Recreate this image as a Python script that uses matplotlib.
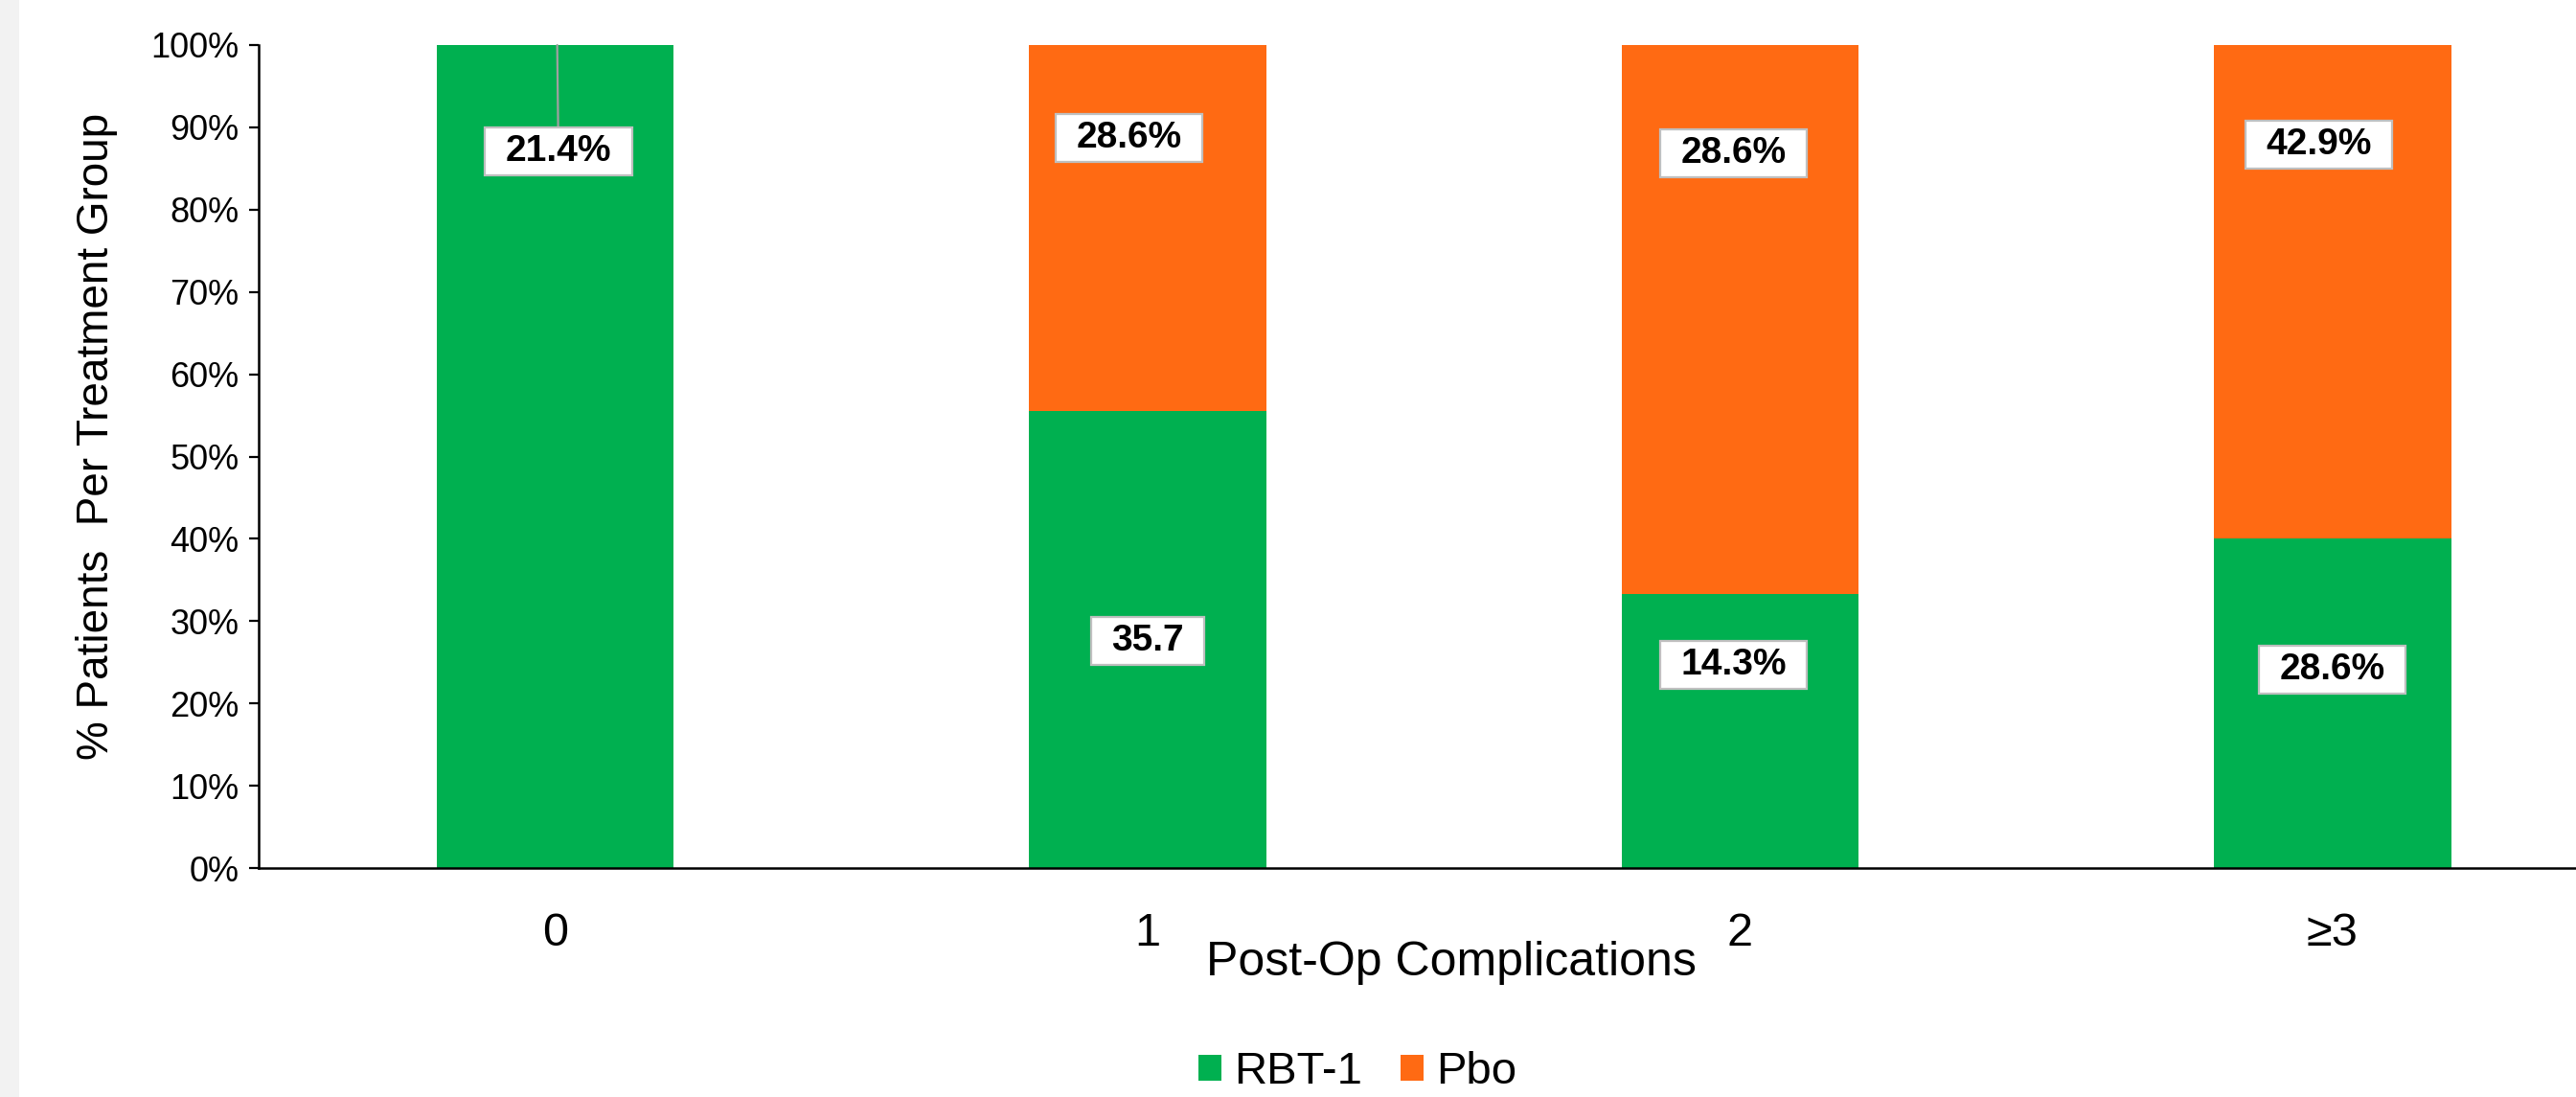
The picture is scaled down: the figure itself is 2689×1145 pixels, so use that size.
import matplotlib
matplotlib.use("Agg")
import matplotlib.pyplot as plt
from matplotlib.patches import Rectangle
from matplotlib.path import Path
import numpy as np

plt.rcParams['font.family'] = ['Liberation Sans', 'DejaVu Sans']

# Post-op complication categories and % of patients per treatment group
categories = ["0", "1", "2", "≥3"]
rbt_values = [21.4, 35.7, 14.3, 28.6]
pbo_values = [0.0, 28.6, 28.6, 42.9]
rbt_labels = ["21.4%", "35.7", "14.3%", "28.6%"]
pbo_labels = [None, "28.6%", "28.6%", "42.9%"]
y_ticks = [0, 10, 20, 30, 40, 50, 60, 70, 80, 90, 100]

# Label placement (x offset from bar centre, y height in %)
rbt_label_pos = [(0.005, 87.1), (0.0, 27.6), (-0.011, 24.7), (0.0, 24.1)]
pbo_label_pos = [None, (-0.032, 88.7), (-0.011, 86.8), (-0.023, 87.9)]

GREEN = "#00B050"
ORANGE = "#FF6A13"

rbt = np.array(rbt_values)
pbo = np.array(pbo_values)
total = rbt + pbo
rbt_share = rbt / total * 100
pbo_share = pbo / total * 100


def label_box(x0, y0, width, height, mutation_size):
    """Rectangle with wider horizontal than vertical padding."""
    hp = 0.55 * mutation_size
    vp = 0.18 * mutation_size
    x0, y0 = x0 - hp, y0 - vp
    x1, y1 = x0 + width + 2 * hp, y0 + height + 2 * vp
    return Path([(x0, y0), (x1, y0), (x1, y1), (x0, y1), (x0, y0)],
                closed=True)


W, H, DPI = 2689, 1145, 100
fig = plt.figure(figsize=(W / DPI, H / DPI), dpi=DPI)
fig.patch.set_facecolor("white")
fig.patches.append(Rectangle((0, 0), 20 / W, 1, transform=fig.transFigure,
                             facecolor="#F2F2F2", edgecolor="none", zorder=0))

ax = fig.add_axes([270 / W, (H - 906) / H, (W - 270) / W, 859 / H])
x = np.arange(len(categories))
ax.bar(x, rbt_share, width=0.40, color=GREEN, label="RBT-1", zorder=2)
ax.bar(x, pbo_share, width=0.40, bottom=rbt_share, color=ORANGE, label="Pbo", zorder=2)

ax.set_xlim(-0.501, 3.411)
ax.set_ylim(0, 100)
ax.set_yticks(y_ticks)
ax.set_yticklabels([f"{t}%" for t in y_ticks], fontsize=26)
ax.set_xticks(x)
ax.set_xticklabels(categories, fontsize=35)
ax.tick_params(axis="x", length=0, pad=33)
ax.tick_params(axis="y", length=7, width=1.6, direction="out", pad=8)

for side in ("top", "right"):
    ax.spines[side].set_visible(False)
for side in ("left", "bottom"):
    ax.spines[side].set_linewidth(1.8)
    ax.spines[side].set_color("black")

box = dict(boxstyle=label_box, facecolor="white", edgecolor="#BFBFBF", linewidth=1.6)
lab_kw = dict(ha="center", va="center", fontsize=28, fontweight="bold", bbox=box, zorder=4)
for i in range(len(categories)):
    dx, yy = rbt_label_pos[i]
    if i == 0:
        ax.annotate(rbt_labels[i], xy=(x[i] + 0.003, 100), xytext=(x[i] + dx, yy),
                    textcoords="data",
                    arrowprops=dict(arrowstyle="-", color="#A0A0A0", lw=1.6,
                                    shrinkA=0, shrinkB=0),
                    **lab_kw)
    else:
        ax.text(x[i] + dx, yy, rbt_labels[i], **lab_kw)
    if pbo_labels[i] is not None:
        dx, yy = pbo_label_pos[i]
        ax.text(x[i] + dx, yy, pbo_labels[i], **lab_kw)

ax.set_xlabel("Post-Op Complications", fontsize=36)
ax.xaxis.set_label_coords(0.5147, -0.115)
ax.xaxis.label.set_va("center")
ax.set_ylabel("% Patients  Per Treatment Group", fontsize=33)
ax.yaxis.set_label_coords(-0.0607, 0.525)

fig.legend(loc="center", bbox_to_anchor=(1417 / W, (H - 1119) / H), ncol=2,
           frameon=False, fontsize=34, handlelength=0.5, handleheight=0.5,
           handletextpad=0.28, columnspacing=0.85)

fig.savefig("out.png", dpi=DPI)
